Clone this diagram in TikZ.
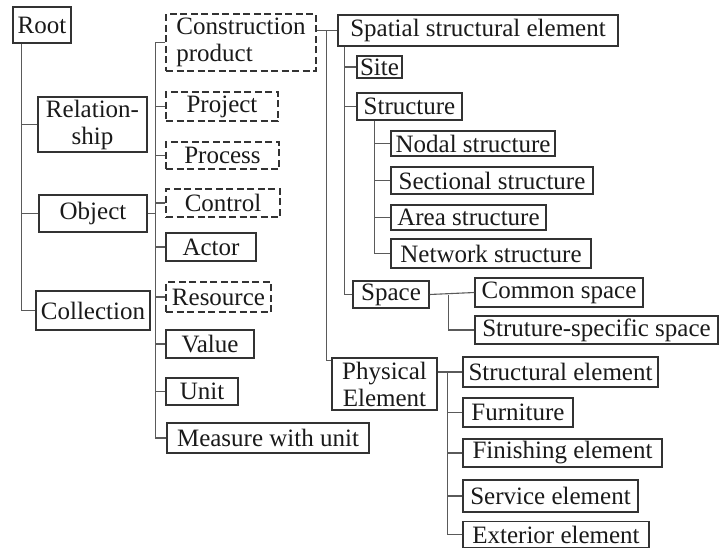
\documentclass[tikz,border=0pt]{standalone}
\usepackage{fontspec}
\setmainfont{Liberation Serif}
\definecolor{txtc}{HTML}{1A1A1A}
\definecolor{boxc}{HTML}{333333}
\definecolor{lnc}{HTML}{5A5A5A}
\begin{document}
\begin{tikzpicture}[x=1pt,y=-1pt,
  bx/.style={draw=boxc, line width=1.1pt, inner sep=0pt, align=center, text=txtc,
             font=\fontsize{25}{27}\selectfont},
  dbx/.style={bx, dash pattern=on 7pt off 3.5pt},
  ln/.style={draw=lnc, line width=1.1pt}]
\useasboundingbox[fill=white] (0,0) rectangle (720,549);
% level 1
\node[bx, minimum width=58pt, minimum height=36pt] (root) at (42,25) {Root};
\node[bx, minimum width=109pt, minimum height=55pt] (rel) at (92.5,124.5) {Relation-\\ship};
\node[bx, minimum width=108pt, minimum height=37pt] (obj) at (93,213.5) {Object};
\node[bx, minimum width=114pt, minimum height=39pt] (coll) at (93,310.5) {Collection};
% level 2
\node[dbx, align=left, minimum width=150pt, minimum height=57pt] (cp) at (241,42.5) {Construction\\product};
\node[dbx, minimum width=112pt, minimum height=29pt] (proj) at (222,106.5) {Project};
\node[dbx, minimum width=113pt, minimum height=27pt] (proc) at (222.5,155.5) {Process};
\node[dbx, minimum width=114pt, minimum height=28pt] (ctrl) at (223,203) {Control};
\node[bx, minimum width=90pt, minimum height=28pt] (actor) at (211,247) {Actor};
\node[dbx, minimum width=105pt, minimum height=30pt] (res) at (218.5,297) {Resource};
\node[bx, minimum width=88pt, minimum height=28pt] (val) at (210,344) {Value};
\node[bx, minimum width=72pt, minimum height=27pt] (unit) at (202,391.5) {Unit};
\node[bx, minimum width=202pt, minimum height=30pt] (meas) at (268,438) {Measure with unit};
% level 3
\node[bx, minimum width=280pt, minimum height=31pt] (spat) at (478,30.5) {Spatial structural element};
\node[bx, minimum width=45pt, minimum height=22pt] (site) at (379.5,67) {Site};
\node[bx, minimum width=105pt, minimum height=27pt] (struct) at (409.5,106.5) {Structure};
\node[bx, minimum width=164pt, minimum height=25pt] (nodal) at (473,143.5) {Nodal structure};
\node[bx, minimum width=202pt, minimum height=27pt] (sect) at (492,180.5) {Sectional structure};
\node[bx, minimum width=155pt, minimum height=25pt] (area) at (468.5,217.5) {Area structure};
\node[bx, minimum width=200pt, minimum height=29pt] (net) at (491,253.5) {Network structure};
\node[bx, minimum width=76pt, minimum height=27pt] (space) at (391,294.5) {Space};
\node[bx, minimum width=168pt, minimum height=29pt] (common) at (559,292.5) {Common space};
\node[bx, minimum width=243pt, minimum height=28pt] (sss) at (596.5,330) {Struture-specific space};
\node[bx, minimum width=105pt, minimum height=52pt] (phys) at (384.5,384) {Physical\\Element};
\node[bx, minimum width=195pt, minimum height=30pt] (strel) at (560.5,372) {Structural element};
\node[bx, minimum width=110pt, minimum height=29pt] (furn) at (518,412.5) {Furniture};
\node[bx, minimum width=199pt, minimum height=28pt] (fin) at (562.5,453) {Finishing element};
\node[bx, minimum width=175pt, minimum height=32pt] (serv) at (550.5,496) {Service element};
\node[bx, minimum width=186pt, minimum height=26pt] (ext) at (556,534.5) {Exterior element};
% connectors: root trunk
\coordinate (t0) at ([xshift=9pt]root.south west);
\draw[ln] (t0) |- (coll.west);
\draw[ln] (rel.west) -- (rel.west -| t0);
\draw[ln] (obj.west) -- (obj.west -| t0);
% second column
\coordinate (t1) at ([xshift=-10pt]cp.west);
\draw[ln] (cp.west) -- (t1) |- (meas.west);
\foreach \n in {proj,proc,ctrl,actor,res,val,unit}
  \draw[ln] (\n.west) -- (\n.west -| t1);
\draw[ln] (obj.east) -- (obj.east -| t1);
% construction product -> spatial / physical
\draw[ln] (cp.east |- spat.west) -- (spat.west);
\coordinate (t2) at ([xshift=-11pt]spat.west);
\draw[ln] (t2) |- ([yshift=-3pt]phys.north west);
% spatial children
\coordinate (t3) at ([xshift=7pt]spat.south west);
\draw[ln] (t3) |- (space.west);
\draw[ln] (site.west) -- (site.west -| t3);
\draw[ln] (struct.west) -- (struct.west -| t3);
% structure children
\coordinate (t4) at ([xshift=18pt]struct.south west);
\draw[ln] (t4) |- (net.west);
\foreach \n in {nodal,sect,area}
  \draw[ln] (\n.west) -- (\n.west -| t4);
% space children
\draw[ln] (space.east) -- (common.west);
\coordinate (t5) at ([xshift=19pt]space.east);
\draw[ln] (t5) |- (sss.west);
% physical children
\draw[ln] (phys.east |- strel.west) -- (strel.west);
\coordinate (t6) at ([xshift=-15pt]strel.west);
\draw[ln] (t6) |- (ext.west);
\foreach \n in {furn,fin,serv}
  \draw[ln] (\n.west) -- (\n.west -| t6);
\end{tikzpicture}
\end{document}
